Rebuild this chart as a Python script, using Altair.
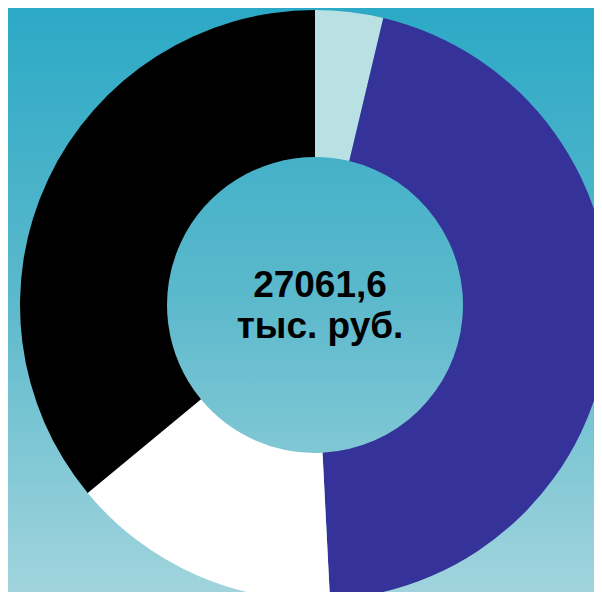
import altair as alt
import pandas as pd

categories = ["Категория 1", "Категория 2", "Категория 3", "Категория 4"]
values = [1006.7, 12305.0, 4008.0, 9741.9]
colors = ["#b9e1e4", "#35339a", "#ffffff", "#000000"]
center_lines = ["27061,6", "тыс. руб."]

W, H = 586, 584

df = pd.DataFrame({"cat": categories, "value": values, "idx": list(range(len(categories)))})

bg = alt.Chart(pd.DataFrame({"a": [0]})).mark_rect(
    color=alt.Gradient(
        gradient="linear", x1=0, x2=0, y1=0, y2=1,
        stops=[alt.GradientStop(color="#2ca9c6", offset=0),
               alt.GradientStop(color="#5cb9cc", offset=0.5),
               alt.GradientStop(color="#a1d4dd", offset=1)],
    )
).encode(x=alt.value(0), x2=alt.value(W), y=alt.value(0), y2=alt.value(H))

donut = alt.Chart(df).mark_arc(radius=295, innerRadius=148).encode(
    theta=alt.Theta("value:Q", stack=True),
    color=alt.Color("cat:N", scale=alt.Scale(domain=categories, range=colors), legend=None),
    order=alt.Order("idx:Q"),
    x=alt.value(307),
    y=alt.value(297),
)

label = alt.Chart(pd.DataFrame({"a": [0]})).mark_text(
    text=center_lines, fontSize=37, fontWeight="bold", font="Liberation Sans",
    lineHeight=41, baseline="alphabetic", align="center", color="#000000",
).encode(x=alt.value(312), y=alt.value(289))

chart = alt.layer(bg, donut, label).properties(
    width=W, height=H, padding=0, autosize=alt.AutoSizeParams(type="none")
).configure_view(stroke=None)

chart.save("out.html", embed_options={"renderer": "svg", "actions": False})
